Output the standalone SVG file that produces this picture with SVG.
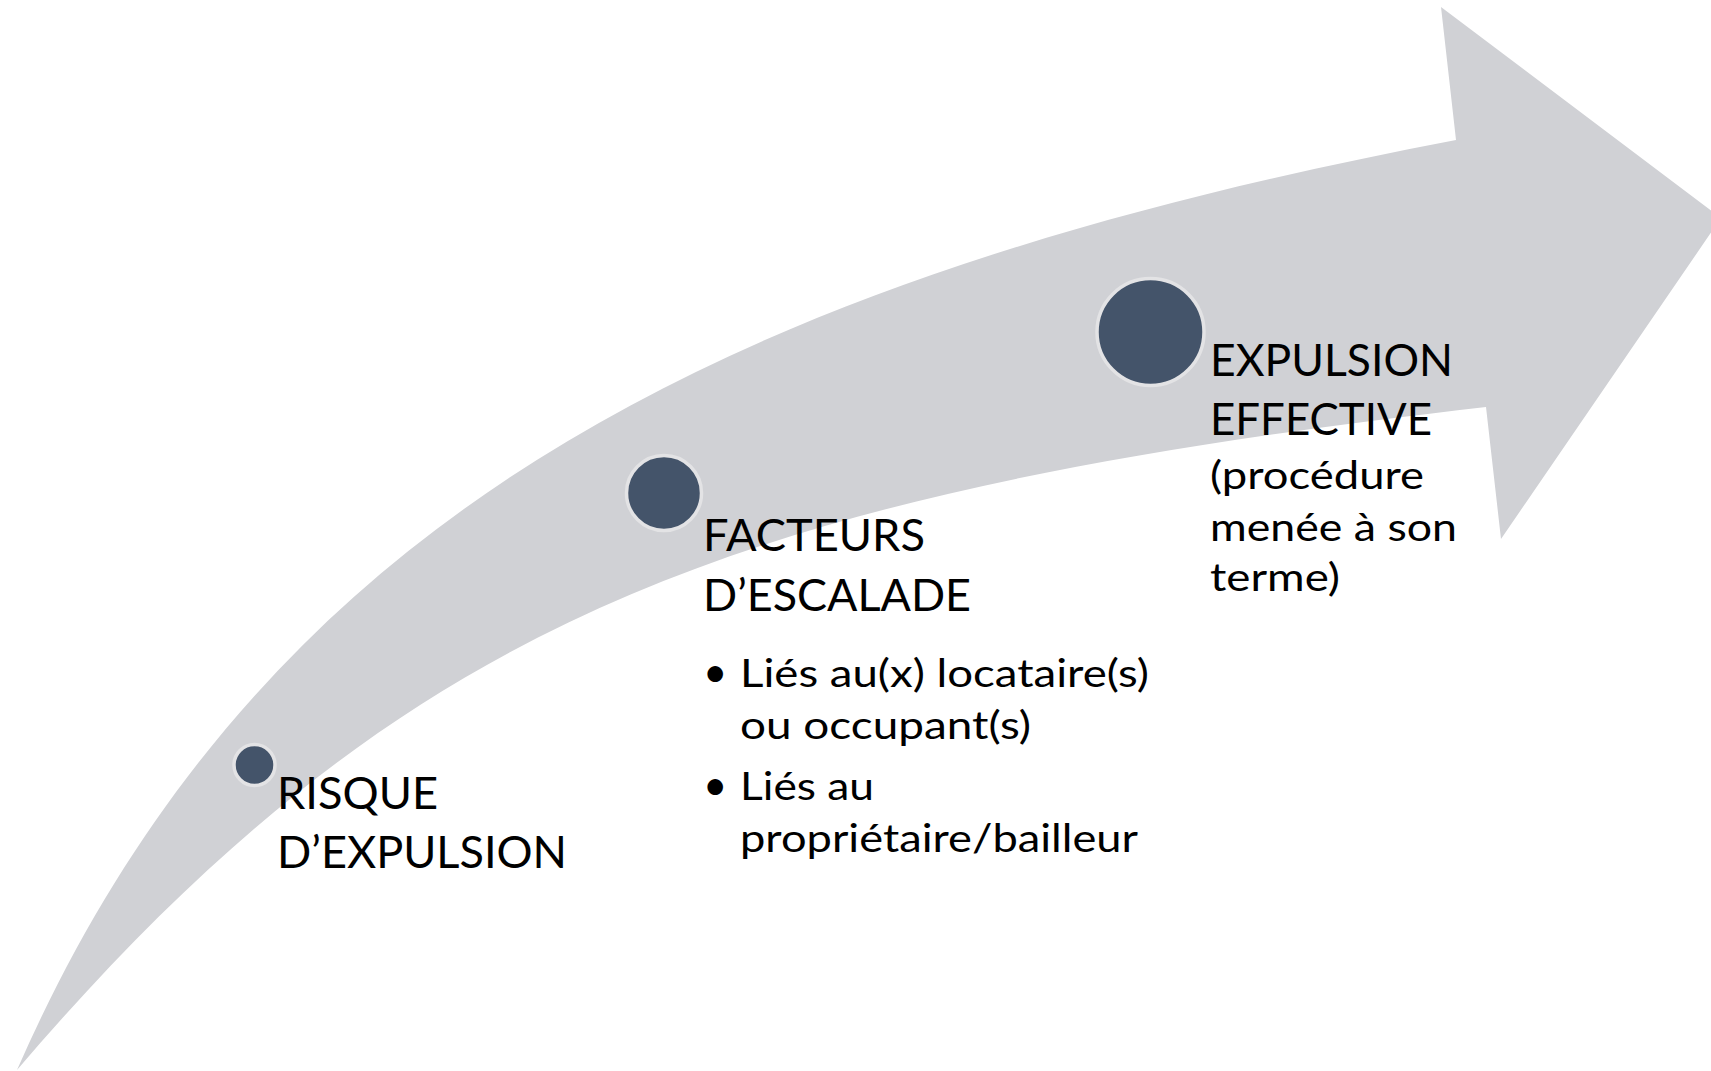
<svg xmlns="http://www.w3.org/2000/svg" width="1711" height="1071" viewBox="0 0 1711 1071">
<style>
.band{fill:#d0d1d5;}
.dot{fill:#44546a;stroke:#e3e3e5;stroke-width:3.5;}
.h{font-family:Lato,"Liberation Sans",sans-serif;font-size:44px;fill:#000;}
.b{font-family:Lato,"Liberation Sans",sans-serif;font-size:38px;fill:#000;}
.bul{font-family:Lato,"Liberation Sans",sans-serif;font-size:42px;fill:#000;}
</style>
<rect width="1711" height="1071" fill="#ffffff"/>
<g id="arrow">
<path class="band" d="M17,1070 C257.8,520 719.5,280.25 1456,140 L1441,7 L1721,218 L1501,539 L1486,407 C741.25,493.25 406.4,614 17,1070 Z"/>
</g>
<g id="connectors"></g>
<g id="node-risque">
<circle class="dot" cx="254.5" cy="765" r="20.5"/>
<text class="h" x="277" y="808.5" textLength="161" lengthAdjust="spacingAndGlyphs">RISQUE</text>
<text class="h" x="277" y="867.5" textLength="290" lengthAdjust="spacingAndGlyphs">D’EXPULSION</text>
</g>
<g id="node-facteurs">
<circle class="dot" cx="664" cy="493" r="37.5"/>
<text class="h" x="703" y="551" textLength="222" lengthAdjust="spacingAndGlyphs">FACTEURS</text>
<text class="h" x="703" y="611" textLength="268" lengthAdjust="spacingAndGlyphs">D’ESCALADE</text>
<text class="bul" x="703" y="687">•</text>
<text class="b" x="740" y="687" textLength="409" lengthAdjust="spacingAndGlyphs">Liés au(x) locataire(s)</text>
<text class="b" x="740" y="739" textLength="291" lengthAdjust="spacingAndGlyphs">ou occupant(s)</text>
<text class="bul" x="703" y="800">•</text>
<text class="b" x="740" y="800" textLength="134" lengthAdjust="spacingAndGlyphs">Liés au</text>
<text class="b" x="740" y="852" textLength="398" lengthAdjust="spacingAndGlyphs">propriétaire/bailleur</text>
</g>
<g id="node-expulsion">
<circle class="dot" cx="1150.5" cy="332" r="53.5"/>
<text class="h" x="1210" y="376" textLength="243" lengthAdjust="spacingAndGlyphs">EXPULSION</text>
<text class="h" x="1210" y="435" textLength="222" lengthAdjust="spacingAndGlyphs">EFFECTIVE</text>
<text class="b" x="1210" y="488.5" textLength="214" lengthAdjust="spacingAndGlyphs">(procédure</text>
<text class="b" x="1210" y="540.5" textLength="247" lengthAdjust="spacingAndGlyphs">menée à son</text>
<text class="b" x="1210" y="591" textLength="130" lengthAdjust="spacingAndGlyphs">terme)</text>
</g>
</svg>
